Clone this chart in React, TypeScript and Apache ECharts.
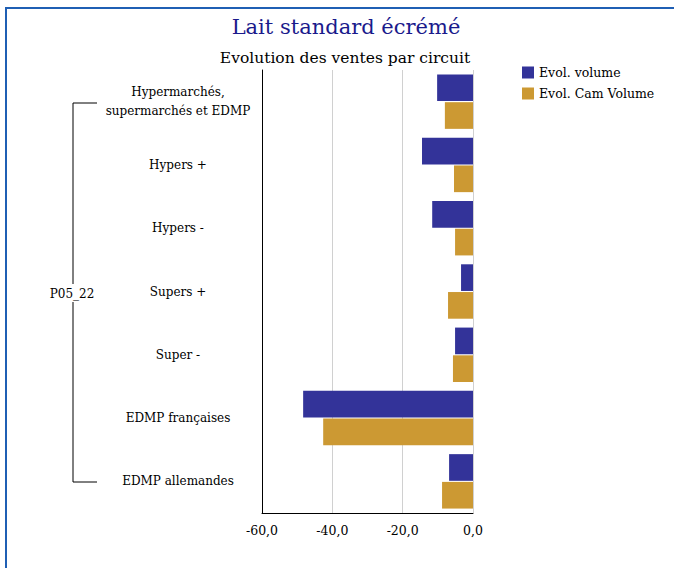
import React, { useEffect, useRef } from "react";
import * as echarts from "echarts";

const categories = [
  "Hypermarchés,\nsupermarchés et EDMP",
  "Hypers +",
  "Hypers -",
  "Supers +",
  "Super -",
  "EDMP françaises",
  "EDMP allemandes",
];
const evolVolume = [-10.2, -14.5, -11.6, -3.4, -5.1, -48.3, -6.8];
const evolCamVolume = [-8.0, -5.4, -5.1, -7.1, -5.7, -42.6, -8.8];
const seriesNames = ["Evol. volume", "Evol. Cam Volume"];
const groupLabel = "P05_22";
const titleText = "Lait standard écrémé";
const subtitleText = "Evolution des ventes par circuit";

const FONT = "'DejaVu Serif', serif";

export default function App() {
  const ref = useRef<HTMLDivElement>(null);
  useEffect(() => {
    if (!ref.current) return;
    const chart = echarts.init(ref.current, null, { renderer: "svg" });
    chart.setOption({
      animation: false,
      backgroundColor: "#ffffff",
      textStyle: { fontFamily: FONT },
      title: [
        {
          text: titleText,
          left: 341,
          top: 11,
          textAlign: "center",
          textStyle: { fontFamily: FONT, fontSize: 21, fontWeight: "normal", color: "#1a1a8c" },
        },
        {
          text: subtitleText,
          left: 340,
          top: 45,
          textAlign: "center",
          textStyle: { fontFamily: FONT, fontSize: 15.5, fontWeight: "normal", color: "#000" },
        },
      ],
      legend: {
        orient: "vertical",
        left: 517,
        top: 65,
        padding: [1, 5, 5, 5],
        itemWidth: 12,
        itemHeight: 12,
        itemGap: 8,
        icon: "rect",
        textStyle: { fontFamily: FONT, fontSize: 12.5, color: "#000" },
        data: seriesNames,
      },
      grid: { left: 262, right: 201, top: 70, bottom: 55, containLabel: false },
      xAxis: {
        type: "value",
        min: -60,
        max: 0,
        interval: 20,
        axisLine: { show: true, lineStyle: { color: "#000", width: 1 } },
        axisTick: { show: false },
        splitLine: { show: true, lineStyle: { color: "#d0d0d0", width: 1 } },
        axisLabel: {
          fontFamily: FONT,
          fontSize: 12.5,
          color: "#000",
          margin: 11,
          formatter: (v: number) => v.toFixed(1).replace(".", ","),
        },
      },
      yAxis: {
        type: "category",
        data: categories,
        inverse: true,
        axisLine: { show: true, onZero: false, lineStyle: { color: "#000", width: 1 } },
        axisTick: { show: false },
        axisLabel: {
          fontFamily: FONT,
          fontSize: 12,
          color: "#000",
          align: "center",
          margin: 84,
          lineHeight: 19,
        },
      },
      series: [
        {
          name: seriesNames[0],
          type: "bar",
          data: evolVolume,
          itemStyle: { color: "#333399" },
          barGap: "4%",
          barCategoryGap: "14%",
        },
        {
          name: seriesNames[1],
          type: "bar",
          data: evolCamVolume,
          itemStyle: { color: "#cc9933" },
          barGap: "4%",
          barCategoryGap: "14%",
        },
      ],
      graphic: [
        {
          type: "rect",
          shape: { x: 6, y: 8, width: 720, height: 620 },
          style: { fill: "none", stroke: "#1f5fb4", lineWidth: 2 },
          silent: true,
        },
        {
          type: "polyline",
          shape: { points: [[97, 103], [73, 103], [73, 284]] },
          style: { fill: "none", stroke: "#000", lineWidth: 1 },
        },
        {
          type: "polyline",
          shape: { points: [[73, 302], [73, 482], [97, 482]] },
          style: { fill: "none", stroke: "#000", lineWidth: 1 },
        },
        {
          type: "text",
          x: 72,
          y: 294,
          style: {
            text: groupLabel,
            fontFamily: FONT,
            fontSize: 12,
            fill: "#000",
            align: "center",
            verticalAlign: "middle",
          },
        },
      ],
    });
    return () => chart.dispose();
  }, []);
  return (
    <div
      ref={ref}
      style={{ position: "fixed", left: 0, top: 0, width: 674, height: 568 }}
    />
  );
}
